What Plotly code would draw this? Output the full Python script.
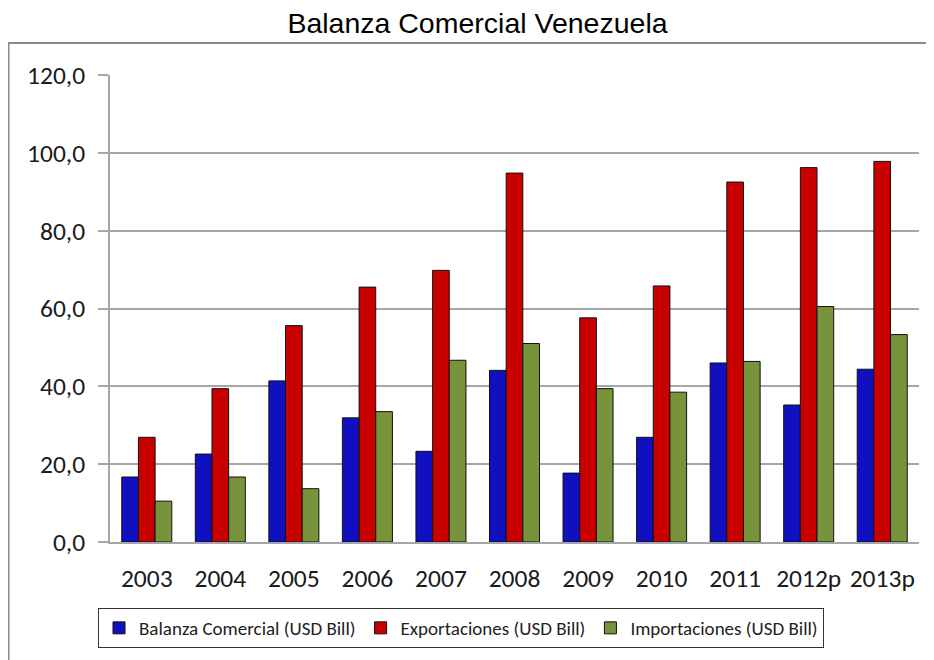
import plotly.graph_objects as go

years = ["2003", "2004", "2005", "2006", "2007", "2008", "2009", "2010", "2011", "2012p", "2013p"]
balanza = [16.7, 22.6, 41.4, 31.9, 23.3, 44.1, 17.7, 26.9, 46.0, 35.2, 44.4]
exportaciones = [26.9, 39.4, 55.6, 65.5, 69.8, 94.8, 57.6, 65.8, 92.5, 96.2, 97.8]
importaciones = [10.5, 16.7, 13.7, 33.5, 46.7, 51.0, 39.4, 38.5, 46.4, 60.5, 53.3]
yticks = [0, 20, 40, 60, 80, 100, 120]
yticklabels = ["0,0", "20,0", "40,0", "60,0", "80,0", "100,0", "120,0"]

series = [
    ("Balanza Comercial (USD Bill)", balanza, "#1010C0"),
    ("Exportaciones (USD Bill)", exportaciones, "#C80000"),
    ("Importaciones (USD Bill)", importaciones, "#77933C"),
]

W, H = 926, 652
L, R, T, B = 102, 15, 67, 118
ph = H - T - B
pw = W - L - R

fig = go.Figure()
for name, vals, color in series:
    fig.add_trace(go.Bar(
        x=years, y=vals, name=name,
        marker=dict(color=color, line=dict(color="#111111", width=1)),
    ))

tickfont = dict(family="Carlito, Calibri, Lato, sans-serif", size=25.5, color="#1a1a1a")

fig.update_layout(
    width=W, height=H,
    margin=dict(l=L, r=R, t=T, b=B),
    paper_bgcolor="white", plot_bgcolor="white",
    barmode="group", bargap=0.32, bargroupgap=0,
    title=dict(text="Balanza Comercial Venezuela", x=469.5 / W, xanchor="center",
               y=1 - 15 / H, yanchor="middle",
               font=dict(family="Liberation Sans, Arial, sans-serif",
                         size=28.5, color="black")),
    showlegend=True,
    legend=dict(orientation="h", x=(90 - L) / pw, xanchor="left",
                y=-(600 - (H - B)) / ph, yanchor="top",
                bgcolor="white", bordercolor="#333333", borderwidth=1,
                font=dict(family="Carlito, Calibri, Lato, sans-serif", size=19, color="#222222"),
                traceorder="normal", itemwidth=30),
    shapes=[dict(type="rect", xref="paper", yref="paper",
                 x0=(0.5 - L) / pw, x1=1.2, y0=(H - B - 35) / ph, y1=-0.5,
                 line=dict(color="#8c8c8c", width=2), layer="below")],
)
fig.update_yaxes(range=[0, 120], tickvals=yticks, ticktext=yticklabels,
                 showgrid=True, gridcolor="#a6a6a6", gridwidth=1.5,
                 showline=True, linecolor="#a6a6a6", linewidth=1.5,
                 ticks="outside", ticklen=10, tickcolor="#a6a6a6", tickwidth=1.5,
                 ticklabelstandoff=8, tickfont=tickfont, zeroline=False)
fig.update_xaxes(showline=True, linecolor="#a6a6a6", linewidth=1.5,
                 ticks="", ticklabelstandoff=13, tickfont=tickfont)

fig.write_html("out.html")
